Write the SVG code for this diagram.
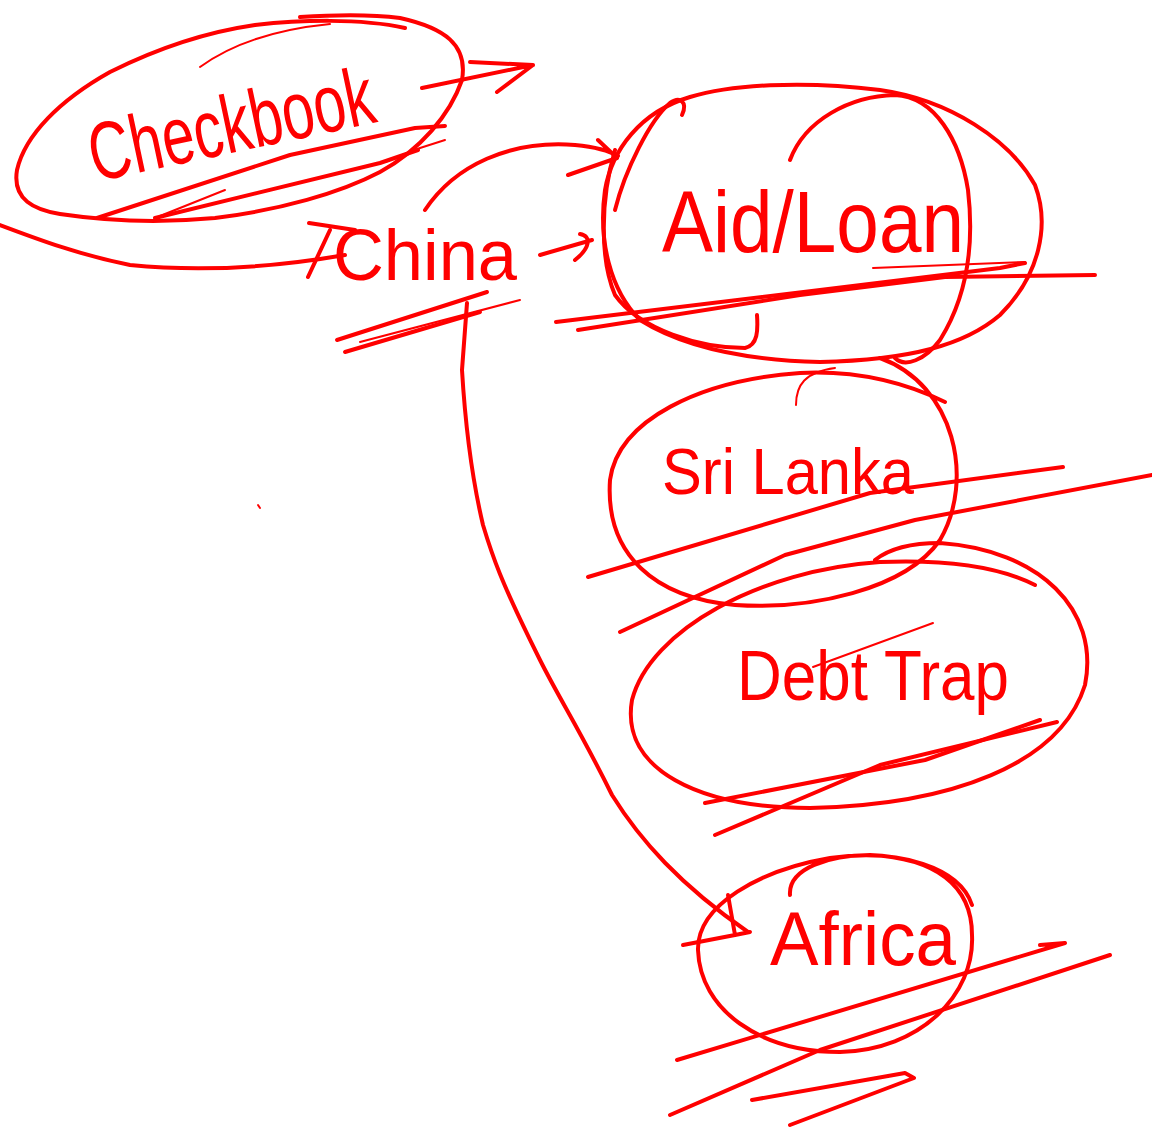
<svg xmlns="http://www.w3.org/2000/svg" width="1152" height="1138" viewBox="0 0 1152 1138">
  <style>
    .ink { fill: none; stroke: #ff0000; stroke-width: 4; stroke-linecap: round; stroke-linejoin: round; }
    .thin { fill: none; stroke: #ff0000; stroke-width: 2; stroke-linecap: round; stroke-linejoin: round; }
    .label { fill: #ff0000; font-family: "Liberation Sans", "DejaVu Sans", sans-serif; font-weight: normal; }
  </style>
  <rect width="1152" height="1138" fill="#ffffff"/>

  <!-- Checkbook bubble -->
  <g id="node-checkbook">
    <path class="ink" d="M 405,28 C 360,18 300,20 255,25 C 200,33 150,52 110,72 C 60,100 25,135 17,170 C 12,200 35,210 60,214 C 100,220 150,224 215,218 C 280,210 340,193 380,172 C 420,150 450,115 462,80 C 468,45 445,28 400,18 C 370,14 330,15 300,17"/>
    <path class="thin" d="M 200,67 C 230,45 270,30 330,24"/>
    <path class="ink" d="M 0,225 C 40,240 80,255 130,265 C 200,272 270,268 345,255"/>
    <path class="ink" d="M 97,218 L 290,155 L 415,128 L 445,126"/>
    <path class="ink" d="M 155,218 L 380,163 L 418,150"/>
    <path class="thin" d="M 160,216 L 225,190 M 385,162 L 420,148 L 445,140"/>
    <text class="label" x="95" y="182" font-size="82" textLength="290" lengthAdjust="spacingAndGlyphs" transform="rotate(-12 95 182)">Checkbook</text>
  </g>

  <!-- China -->
  <g id="node-china">
    <text class="label" x="333" y="280" font-size="72" textLength="184" lengthAdjust="spacingAndGlyphs">China</text>
    <path class="ink" d="M 309,223 L 355,230 M 330,230 L 308,277"/>
    <path class="ink" d="M 337,340 L 487,292"/>
    <path class="ink" d="M 345,352 L 480,312"/>
    <path class="thin" d="M 360,342 L 520,300"/>
  </g>

  <!-- Aid / Loan bubble -->
  <g id="node-aidloan">
    <path class="ink" d="M 690,97 C 730,85 800,80 880,90 C 950,100 1010,140 1035,185 C 1050,225 1040,275 1000,315 C 965,345 910,360 820,362 C 740,360 680,345 640,320 C 610,290 598,240 605,190 C 612,150 640,112 690,97"/>
    <path class="ink" d="M 615,210 C 625,170 650,120 670,103 C 680,96 688,102 682,115"/>
    <path class="ink" d="M 615,150 C 600,200 600,260 615,295 C 640,330 700,348 745,348 C 758,345 758,330 757,315"/>
    <path class="ink" d="M 790,160 C 805,120 850,96 895,95 C 935,97 960,140 968,190 C 975,250 965,300 940,340 C 925,360 905,368 895,358"/>
    <text class="label" x="662" y="252" font-size="88" textLength="302" lengthAdjust="spacingAndGlyphs">Aid/Loan</text>
    <path class="ink" d="M 556,322 L 820,290 L 1000,268 L 1025,263"/>
    <path class="ink" d="M 578,330 L 800,295 L 945,277 L 1095,275"/>
    <path class="thin" d="M 873,268 L 1025,262"/>
  </g>

  <!-- Sri Lanka bubble -->
  <g id="node-srilanka">
    <path class="ink" d="M 880,358 C 955,385 975,480 940,540 C 905,590 810,610 735,605 C 655,598 605,555 610,480 C 618,420 700,380 800,373 C 860,370 910,385 945,402"/>
    <path class="thin" d="M 796,405 C 796,385 805,372 835,368"/>
    <text class="label" x="662" y="494" font-size="64" textLength="252" lengthAdjust="spacingAndGlyphs">Sri Lanka</text>
    <path class="ink" d="M 588,577 L 870,493 L 1063,467"/>
    <path class="ink" d="M 620,632 L 785,555 L 915,520 L 1152,475"/>
  </g>

  <!-- Debt Trap bubble -->
  <g id="node-debttrap">
    <path class="ink" d="M 1035,585 C 990,562 930,560 880,562 C 760,570 650,630 632,700 C 620,770 700,808 810,808 C 950,805 1060,765 1085,685 C 1100,610 1040,550 940,543 C 905,543 885,552 875,560"/>
    <text class="label" x="737" y="700" font-size="70" textLength="272" lengthAdjust="spacingAndGlyphs">Debt Trap</text>
    <path class="thin" d="M 813,667 L 933,623"/>
    <path class="ink" d="M 705,803 L 925,760 L 1040,720"/>
    <path class="ink" d="M 715,835 L 880,765 L 1057,722"/>
  </g>

  <!-- Africa bubble -->
  <g id="node-africa">
    <path class="ink" d="M 790,895 C 788,868 830,855 870,855 C 935,858 972,885 972,935 C 975,995 920,1050 840,1052 C 760,1052 700,1010 698,950 C 697,905 760,870 830,858 C 900,848 960,868 972,905"/>
    <text class="label" x="770" y="965" font-size="76" textLength="186" lengthAdjust="spacingAndGlyphs">Africa</text>
    <path class="ink" d="M 677,1060 L 1065,943 L 1040,945"/>
    <path class="ink" d="M 670,1115 L 820,1050 L 1110,955"/>
    <path class="ink" d="M 752,1100 L 905,1073 L 914,1078 L 790,1125"/>
  </g>

  <!-- connectors -->
  <g id="connectors">
    <!-- Checkbook outward arrow -->
    <path class="ink" d="M 422,88 L 533,65 M 470,62 L 533,65 L 497,92"/>
    <!-- China to Aid/Loan, curved -->
    <path class="ink" d="M 425,210 C 455,165 510,140 575,145 C 595,147 608,150 618,156 M 598,140 L 617,158 L 568,175"/>
    <!-- China to Aid/Loan, short -->
    <path class="ink" d="M 540,255 L 592,240 M 580,234 C 592,236 590,248 575,260"/>
    <!-- China down to Africa -->
    <path class="ink" d="M 467,303 L 462,370 C 465,420 470,470 483,525 C 492,555 500,580 540,660 C 560,700 580,730 612,795 C 640,840 680,885 748,932"/>
    <path class="ink" d="M 728,895 L 735,935 L 683,945 M 735,935 L 750,932"/>
    <path class="thin" d="M 258,505 L 260,508"/>
  </g>
</svg>
